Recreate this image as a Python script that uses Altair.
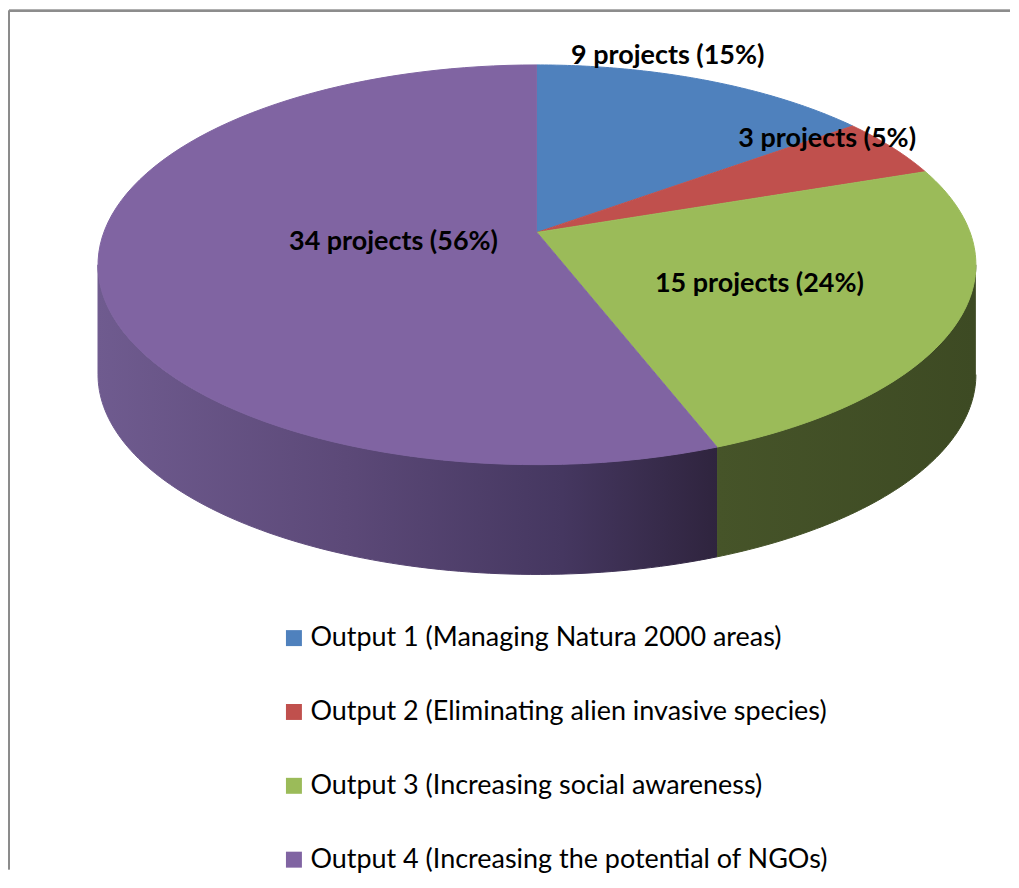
import math
import altair as alt
import pandas as pd

# ---- data ----
categories = [
    "Output 1 (Managing Natura 2000 areas)",
    "Output 2 (Eliminating alien invasive species)",
    "Output 3 (Increasing social awareness)",
    "Output 4 (Increasing the potential of NGOs)",
]
projects = [9, 3, 15, 34]
percents = [15, 5, 24, 56]

# ---- styles ----
top_colors = ["#4F81BD", "#C0504D", "#9BBB59", "#8064A2"]
side_stops = [
    [("#34557C", 0), ("#1F3654", 1)],
    [("#7E3432", 0), ("#5A2423", 1)],
    [("#465429", 0), ("#3D4A23", 1)],
    [("#6F5B8F", 0), ("#5C4978", 0.4), ("#453760", 0.75), ("#2F243E", 1)],
]
# label nudges (style) relative to the mid-angle anchor
label_nudge = [(24, -80), (71, -41), (-23, 0), (117, -12)]

W, H = 1003, 862
CX, CY = 529, 224          # pie apex in chart pixels
SX, SY = 434, 195          # ellipse scale
K = 0.162                  # perspective factor
D = 110                    # depth of the pie
N = 90                     # arc resolution
T1 = math.acos(-K)
T2 = 2 * math.pi - T1
FONT = "Lato"

df = pd.DataFrame({
    "category": categories,
    "projects": projects,
    "pct": percents,
    "idx": list(range(len(categories))),
})

xenc = alt.X("px:Q", scale=alt.Scale(domain=[0, W], nice=False, zero=False), axis=None)
yenc = alt.Y("py:Q", scale=alt.Scale(domain=[0, H], nice=False, zero=False, reverse=True), axis=None)
cscale = alt.Scale(domain=categories, range=top_colors)


def base():
    return (
        alt.Chart(df)
        .transform_joinaggregate(total="sum(projects)")
        .transform_window(cum="sum(projects)", sort=[alt.SortField("idx")], frame=[None, 0])
        .transform_calculate(
            a0="2*PI*(datum.cum-datum.projects)/datum.total",
            a1="2*PI*datum.cum/datum.total",
        )
    )


# ---- side walls ----
side_layers = []
for i, cat in enumerate(categories):
    grad = alt.LinearGradient(
        gradient="linear",
        stops=[alt.GradientStop(color=c, offset=o) for c, o in side_stops[i]],
        x1=0, x2=1, y1=0, y2=0,
    )
    layer = (
        base()
        .transform_filter(alt.datum.category == cat)
        .transform_calculate(s0=f"max(datum.a0, {T1})", s1=f"min(datum.a1, {T2})")
        .transform_filter("datum.s1 > datum.s0")
        .transform_calculate(k=f"sequence(0, {2 * N + 2})")
        .transform_flatten(["k"])
        .transform_calculate(
            bot=f"datum.k > {N} ? 1 : 0",
            t=f"datum.k <= {N} ? datum.s0 + (datum.s1-datum.s0)*datum.k/{N} : datum.s1 - (datum.s1-datum.s0)*(datum.k-{N + 1})/{N}",
        )
        .transform_calculate(w=f"1 + {K}*cos(datum.t)")
        .transform_calculate(
            px=f"{CX} + {SX}*sin(datum.t)/datum.w",
            py=f"{CY} - {SY}*cos(datum.t)/datum.w + {D}*datum.bot",
        )
        .mark_line(fill=grad, stroke=grad, strokeWidth=1, interpolate="linear")
        .encode(x=xenc, y=yenc, order="k:Q")
    )
    side_layers.append(layer)

# ---- top faces ----
legend = alt.Legend(
    title=None,
    orient="none",
    legendX=272,
    legendY=617,
    direction="vertical",
    symbolType="square",
    symbolSize=256,
    symbolStrokeWidth=0,
    symbolOpacity=1,
    labelFont=FONT,
    labelFontSize=27,
    labelColor="#000000",
    labelLimit=0,
    labelOffset=3,
    rowPadding=46,
    padding=0,
)

top = (
    base()
    .transform_calculate(k=f"sequence(-1, {N + 1})")
    .transform_flatten(["k"])
    .transform_calculate(
        r="datum.k < 0 ? 0 : 1",
        t=f"datum.a0 + (datum.a1-datum.a0)*max(datum.k, 0)/{N}",
    )
    .transform_calculate(w=f"1 + {K}*datum.r*cos(datum.t)")
    .transform_calculate(
        px=f"{CX} + {SX}*datum.r*sin(datum.t)/datum.w",
        py=f"{CY} - {SY}*datum.r*cos(datum.t)/datum.w",
    )
    .mark_line(strokeWidth=1, interpolate="linear")
    .encode(
        x=xenc,
        y=yenc,
        order="k:Q",
        detail="category:N",
        fill=alt.Fill("category:N", scale=cscale, legend=legend),
        stroke=alt.Stroke("category:N", scale=cscale, legend=None),
    )
)

# ---- labels ----
label_layers = []
for i, cat in enumerate(categories):
    dx, dy = label_nudge[i]
    lab = (
        base()
        .transform_filter(alt.datum.category == cat)
        .transform_calculate(t="(datum.a0 + datum.a1)/2")
        .transform_calculate(w=f"1 + {K}*0.6*cos(datum.t)")
        .transform_calculate(
            px=f"{CX} + {SX}*0.6*sin(datum.t)/datum.w",
            py=f"{CY} - {SY}*0.6*cos(datum.t)/datum.w",
            txt="datum.projects + ' projects (' + datum.pct + '%)'",
        )
        .mark_text(font=FONT, fontSize=27, fontWeight="bold", color="#000000",
                   align="center", baseline="middle", dx=dx, dy=dy)
        .encode(x=xenc, y=yenc, text="txt:N")
    )
    label_layers.append(lab)

# ---- frame (left and top borders) ----
frame_left = alt.Chart(df).mark_rule(color="#8C8C8C", strokeWidth=2).encode(
    x=alt.value(0), y=alt.value(2), y2=alt.value(H)
)
frame_top = alt.Chart(df).mark_rule(color="#8C8C8C", strokeWidth=2).encode(
    x=alt.value(0), x2=alt.value(W), y=alt.value(2)
)

chart = (
    alt.layer(*side_layers, top, *label_layers, frame_left, frame_top)
    .properties(width=W, height=H, padding=0)
    .configure(background="white")
    .configure_view(strokeWidth=0, stroke="transparent")
)

chart.save("out.html", embed_options={"renderer": "svg", "actions": False})
